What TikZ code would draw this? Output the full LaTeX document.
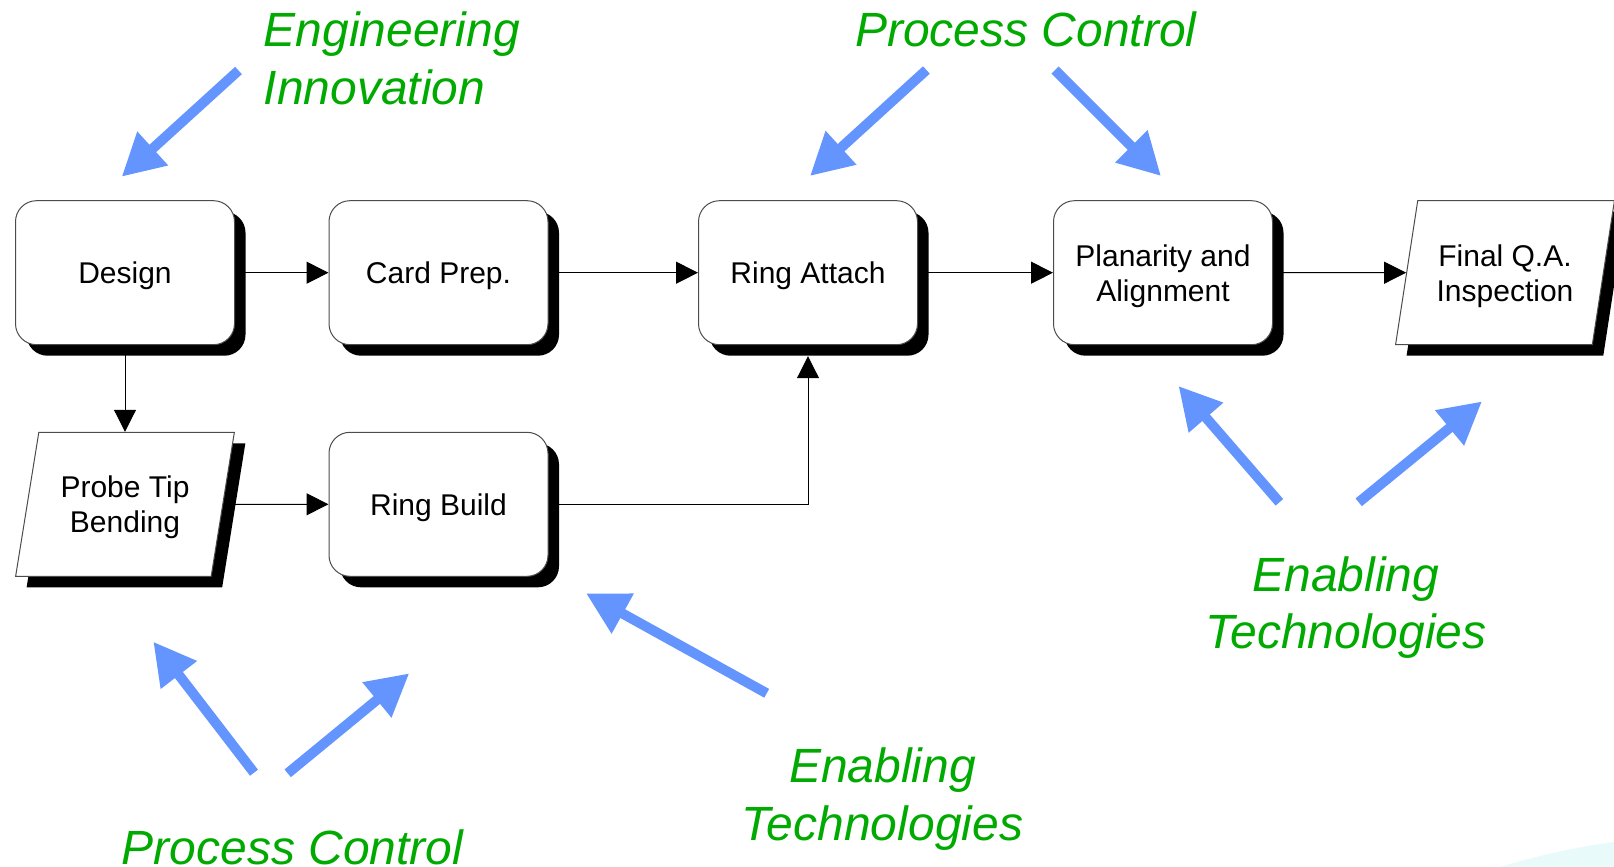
\documentclass[tikz,border=0pt]{standalone}
\usepackage{fontspec}
\setmainfont{Liberation Sans}
\usetikzlibrary{arrows.meta,shapes.geometric,shadows}
\definecolor{labelgreen}{RGB}{0,170,0}
\definecolor{pointerblue}{RGB}{100,149,255}
\definecolor{pale}{RGB}{232,250,250}
\pgfdeclarelayer{bg}
\pgfsetlayers{bg,main}
\tikzset{
  stepshadow/.style={drop shadow={shadow xshift=11pt, shadow yshift=-11pt, fill=black, opacity=1}},
  roundbox/.style={draw=black!70, line width=1pt, fill=white, rounded corners=21pt,
    minimum width=219pt, minimum height=144pt, inner sep=0pt, align=center, text depth=0pt,
    font=\fontsize{30}{35}\selectfont, stepshadow},
  slantbox/.style={draw=black!70, line width=1pt, fill=white, trapezium,
    trapezium left angle=73, trapezium right angle=107, trapezium stretches=true,
    minimum width=219pt, minimum height=144pt, inner sep=0pt, align=center, text depth=0pt,
    font=\fontsize{30}{35}\selectfont, stepshadow},
  flow/.style={draw=black, line width=1pt, -{Triangle[length=22pt,width=22pt]}},
  pointer/.style={draw=pointerblue, line width=10pt,
    -{Triangle[length=42pt,width=43pt]}, pointerblue},
  lbl/.style={text=labelgreen, inner sep=0pt, font=\fontsize{48}{57.5}\selectfont\itshape}
}
\begin{document}
\begin{tikzpicture}[x=1pt, y=-1pt]
\useasboundingbox (0,0) rectangle (1614,867);

% faint tint in the lower right corner
\fill[pale] (1500,867) .. controls (1550,852) and (1590,845) .. (1614,842) -- (1614,867) -- cycle;

% process steps
\node[roundbox] (des) at (125,272.7) {Design};
\node[roundbox] (card) at (438.5,272.7) {Card Prep.};
\node[roundbox] (ra) at (808,272.7) {Ring Attach};
\node[roundbox] (pl) at (1163,272.7) {Planarity and\\Alignment};
\node[slantbox] (fq) at (1505,272.7) {Final Q.A.\\Inspection};
\node[slantbox] (pt) at (125,504.3) {Probe Tip\\Bending};
\node[roundbox] (rb) at (438.5,504.3) {Ring Build};
\coordinate (ratip) at ([yshift=-11pt]ra.south);

% flow connectors
\begin{pgfonlayer}{bg}
\draw[flow] (des.east) -- (card.west);
\draw[flow] (card.east) -- (ra.west);
\draw[flow] (ra.east) -- (pl.west);
\draw[flow] (pl.east) -- (fq.west);
\draw[flow] (des.south) -- (des.south |- pt.north);
\draw[flow] (pt.east) -- (rb.west);
\draw[flow] (rb.east) -| (ratip);
\end{pgfonlayer}

% influence labels
\node[lbl, anchor=base west, align=left] (eng) at (263.5,104.3) {Engineering\\Innovation};
\node[lbl, anchor=base west] (pctop) at (855,46.7) {Process Control};
\node[lbl, anchor=base, align=center] (etright) at (1346,648.5) {Enabling\\Technologies};
\node[lbl, anchor=base, align=center] (etbot) at (882.5,840) {Enabling\\Technologies};
\node[lbl, anchor=base west] (pcbot) at (121.7,864) {Process Control};

% influence pointers
\coordinate (e1) at (238.5,70.5);   \coordinate (e1t) at (121.7,176.7);
\coordinate (p1) at (926.4,70);     \coordinate (p1t) at (810,176);
\coordinate (p2) at (1055,70);      \coordinate (p2t) at (1161,176);
\coordinate (r1) at (1279.4,502.3); \coordinate (r1t) at (1178.5,386);
\coordinate (r2) at (1358.7,502.3); \coordinate (r2t) at (1482,401.4);
\coordinate (b1) at (254,772.7);    \coordinate (b1t) at (153.3,641.7);
\coordinate (b2) at (287.7,773.3);  \coordinate (b2t) at (409.3,673.3);
\coordinate (m1) at (766.7,693.3);  \coordinate (m1t) at (586,593.3);
\foreach \s/\t in {e1/e1t,p1/p1t,p2/p2t,r1/r1t,r2/r2t,b1/b1t,b2/b2t,m1/m1t}
  \draw[pointer] (\s) -- (\t);
\end{tikzpicture}
\end{document}
